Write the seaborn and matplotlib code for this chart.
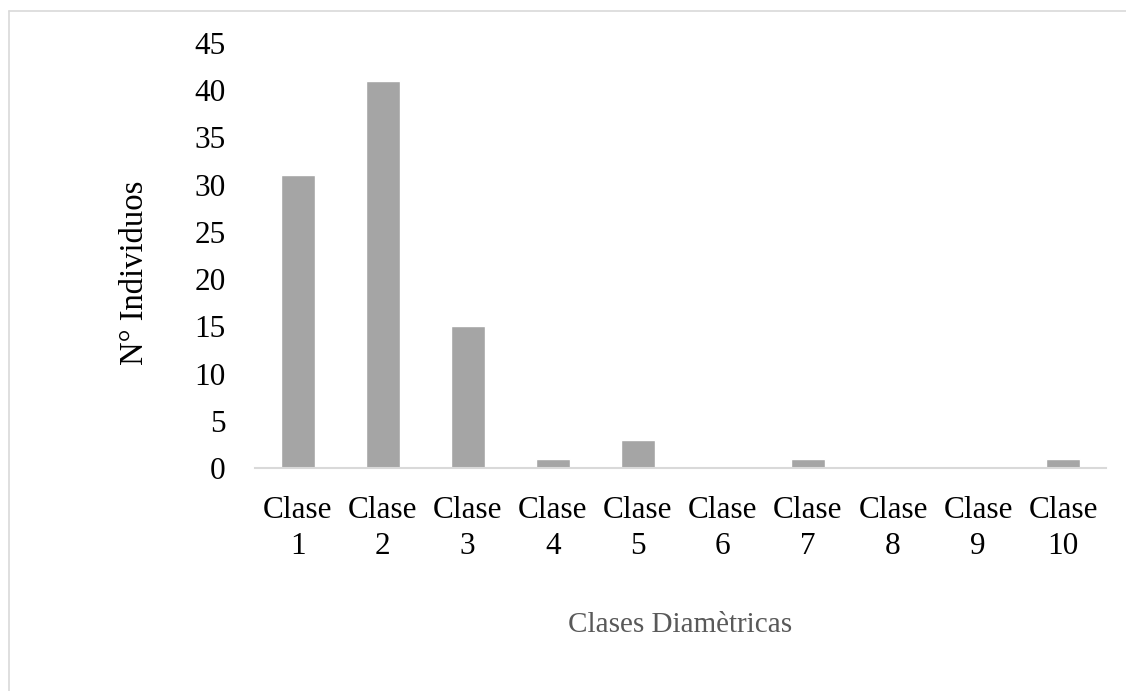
import numpy as np
import pandas as pd
import matplotlib
matplotlib.use("Agg")
import matplotlib.pyplot as plt
import seaborn as sns
from matplotlib.lines import Line2D

# datos del grafico
clases = ["Clase\n1", "Clase\n2", "Clase\n3", "Clase\n4", "Clase\n5",
          "Clase\n6", "Clase\n7", "Clase\n8", "Clase\n9", "Clase\n10"]
individuos = [31, 41, 15, 1, 3, 0, 1, 0, 0, 1]
y_ticks = [0, 5, 10, 15, 20, 25, 30, 35, 40, 45]

df = pd.DataFrame({"clase": clases, "n": individuos})

sns.set_style("white")
plt.rcParams['font.family'] = ['Liberation Serif', 'DejaVu Serif']

fig = plt.figure(figsize=(11.26, 6.91), dpi=100)
ax = fig.add_axes([0.2265, 0.3227, 0.7555, 0.6151])

sns.barplot(data=df, x="clase", y="n", color="#A5A5A5", width=0.4,
            saturation=1, ax=ax)

ax.set_ylim(0, 45)
ax.set_yticks(y_ticks)
ax.set_xlim(-0.5, len(clases) - 0.5)

for s in ["top", "right", "left"]:
    ax.spines[s].set_visible(False)
ax.spines["bottom"].set_color("#D9D9D9")
ax.spines["bottom"].set_linewidth(1.5)

ax.tick_params(axis="y", length=0, pad=21, labelsize=22.5, labelcolor="black")
ax.tick_params(axis="x", length=0, pad=20, labelsize=22.5, labelcolor="black")
for lbl in ax.get_xticklabels():
    lbl.set_linespacing(1.35)

ax.set_xlabel("")
ax.set_ylabel("")
fig.text(135 / 1126, 1 - 273 / 691, "N° Individuos", rotation=90,
         ha="center", va="center", fontsize=23.5, color="black")
fig.text(680 / 1126, 1 - 625 / 691, "Clases Diamètricas",
         ha="center", va="center", fontsize=21, color="#595959")

# marco del grafico (solo se ve arriba e izquierda)
fig.add_artist(Line2D([9 / 1126, 1.0], [1 - 11 / 691, 1 - 11 / 691],
                      transform=fig.transFigure, color="#D9D9D9", lw=1.2))
fig.add_artist(Line2D([9 / 1126, 9 / 1126], [0.0, 1 - 11 / 691],
                      transform=fig.transFigure, color="#D9D9D9", lw=1.2))

fig.savefig("out.png", dpi=100, facecolor="white")
